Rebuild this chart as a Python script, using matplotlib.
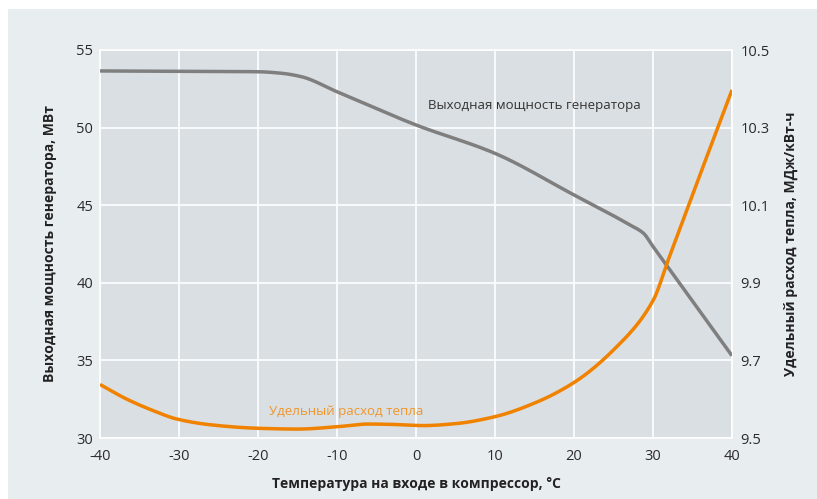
import matplotlib.pyplot as plt
import numpy as np
from matplotlib.patches import Rectangle

plt.rcParams['font.family'] = ['Open Sans', 'DejaVu Sans']
plt.rcParams['axes.unicode_minus'] = False

# выходная мощность генератора, МВт
temp_power = [-40, -30, -20, -17, -14.5, -10, 0, 10, 20, 27, 28.8, 30, 35, 40]
power = [53.65, 53.63, 53.6, 53.5, 53.28, 52.31, 50.17, 48.34, 45.66, 43.75, 43.19, 42.34, 38.82, 35.3]

# удельный расход тепла, МДж/кВт-ч
temp_heat = [-40, -36.6, -33.2, -30.3, -26, -20, -15, -10, -6, -3, 1, 5, 10, 15, 20, 25, 30, 32, 35, 40]
heat = [9.638, 9.600, 9.570, 9.549, 9.534, 9.525, 9.523, 9.529, 9.536, 9.535, 9.532, 9.537,
        9.555, 9.59, 9.643, 9.727, 9.854, 9.963, 10.127, 10.397]

grey = '#7f7f7f'
orange = '#f08200'
txt = '#2b2b2b'

fig = plt.figure(figsize=(8.17, 4.99), dpi=100)
fig.patch.set_facecolor('white')
fig.patches.append(Rectangle((8 / 817, 0), 1, 1 - 9 / 499, transform=fig.transFigure,
                             facecolor='#e8edf0', edgecolor='none', zorder=-10))

ax = fig.add_axes([100 / 817, 61 / 499, 632 / 817, 388 / 499])
ax.set_facecolor('#dadfe3')
ax.set_xlim(-40, 40)
ax.set_ylim(30, 55)
ax.set_xticks(range(-40, 41, 10))
ax.set_yticks(range(30, 56, 5))
ax.grid(True, color='white', linewidth=1.2)
ax.set_axisbelow(True)
for s in ax.spines.values():
    s.set_color('white')
    s.set_linewidth(1.2)
ax.tick_params(length=0, labelsize=10.5, colors=txt)
ax.tick_params(axis='x', pad=8)
ax.tick_params(axis='y', pad=5)

# monotone cubic (PCHIP) through the read points, no overshoot
def smooth(x, y, n=400):
    x = np.asarray(x, float)
    y = np.asarray(y, float)
    xs = np.linspace(x[0], x[-1], n)
    h = np.diff(x)
    d = np.diff(y) / h
    m = np.zeros_like(y)
    m[0], m[-1] = d[0], d[-1]
    for i in range(1, len(y) - 1):
        if d[i - 1] * d[i] <= 0:
            m[i] = 0
        else:
            w1 = 2 * h[i] + h[i - 1]
            w2 = h[i] + 2 * h[i - 1]
            m[i] = (w1 + w2) / (w1 / d[i - 1] + w2 / d[i])
    idx = np.clip(np.searchsorted(x, xs) - 1, 0, len(x) - 2)
    t = (xs - x[idx]) / h[idx]
    h00 = 2 * t**3 - 3 * t**2 + 1
    h10 = t**3 - 2 * t**2 + t
    h01 = -2 * t**3 + 3 * t**2
    h11 = t**3 - t**2
    ys = h00 * y[idx] + h10 * h[idx] * m[idx] + h01 * y[idx + 1] + h11 * h[idx] * m[idx + 1]
    return xs, ys

px, py = smooth(temp_power, power)
ax.plot(px, py, color=grey, linewidth=2.5, solid_capstyle='butt', zorder=3)

ax2 = ax.twinx()
ax2.set_ylim(9.5, 10.5)
ax2.set_yticks([9.5, 9.7, 9.9, 10.1, 10.3, 10.5])
ax2.set_yticklabels(['9.5', '9.7', '9.9', '10.1', '10.3', '10.5'])
for s in ax2.spines.values():
    s.set_visible(False)
ax2.tick_params(length=0, labelsize=10.5, colors=txt, pad=6)
hx, hy = smooth(temp_heat, heat)
ax2.plot(hx, hy, color=orange, linewidth=2.5, solid_capstyle='butt', zorder=3)

ax.text(1.5, 51.4, 'Выходная мощность генератора', fontsize=9.5, color='#333333', va='center')
ax.text(-18.6, 31.7, 'Удельный расход тепла', fontsize=9.5, color='#f0962a', va='center')

ax.set_xlabel('Температура на входе в компрессор, °C', fontsize=10, fontweight='bold',
              color='#222222', labelpad=9)
ax.set_ylabel('Выходная мощность генератора, МВт', fontsize=10, fontweight='bold',
              color='#222222', labelpad=14)
ax2.set_ylabel('Удельный расход тепла, МДж/кВт-ч', fontsize=10, fontweight='bold',
               color='#222222', labelpad=10)

fig.savefig('out.png', dpi=100, facecolor=fig.get_facecolor())
